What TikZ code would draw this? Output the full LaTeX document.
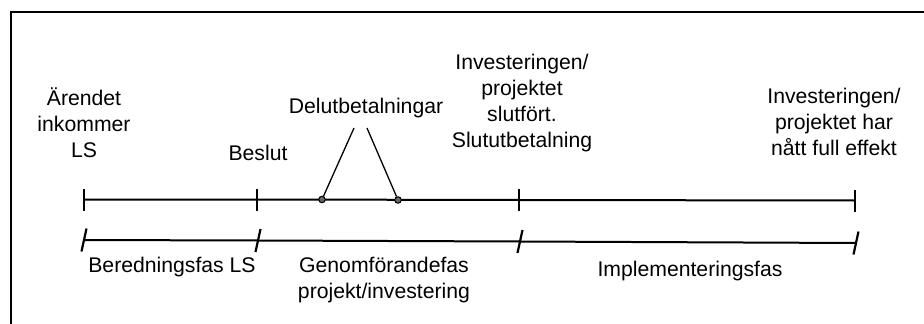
\documentclass[tikz,border=0pt]{standalone}
\usepackage{fontspec}
\setmainfont{Liberation Sans}
\begin{document}
\begin{tikzpicture}[x=1pt,y=-1pt,
  lbl/.style={inner sep=0pt,align=center,anchor=base,font=\fontsize{21.2}{25.7}\selectfont},
  axis/.style={line width=2pt,black},
  tick/.style={line width=2.2pt,black},
  dot/.style={circle,draw=black,fill=black!60,line width=1pt,minimum size=6.5pt,inner sep=0pt}]
\useasboundingbox (0,0) rectangle (924,324);
% frame
\draw[line width=2pt] (11,324) -- (11,12) -- (924,12);
% top timeline
\coordinate (a1) at (84,199.5);
\coordinate (a2) at (257,199.5);
\coordinate (a3) at (519,200);
\coordinate (a4) at (855,200.5);
\draw[axis] (a1) -- (a2) -- (a3) -- (a4);
\foreach \p in {a1,a2,a3,a4}{\draw[tick] ([yshift=-11pt]\p) -- ([yshift=11pt]\p);}
% bottom phase line
\coordinate (b1) at (84,240);
\coordinate (b2) at (258,240.5);
\coordinate (b3) at (520,241.5);
\coordinate (b4) at (856,243);
\draw[axis] (b1) -- (b2) -- (b3) -- (b4);
\foreach \p in {b1,b2,b3,b4}{\draw[tick] ([xshift=-2.5pt,yshift=-11.5pt]\p) -- ([xshift=2.5pt,yshift=11.5pt]\p);}
% partial payments
\node[dot] (d1) at (322,199.5) {};
\node[dot] (d2) at (398,200) {};
\coordinate (p1) at (354,128);
\coordinate (p2) at (367,128);
\draw[line width=1.3pt] (d1) -- (p1);
\draw[line width=1.3pt] (d2) -- (p2);
% labels (anchor = baseline of last line)
\node[lbl] (l1) at (84,157) {Ärendet\\inkommer\\LS};
\node[lbl] (l2) at (258,160) {Beslut};
\node[lbl] (l3) at (366,113) {Delutbetalningar};
\node[lbl] (l4) at (522,147) {Investeringen/\\projektet\\slutfört.\\Slututbetalning};
\node[lbl] (l5) at (834,155) {Investeringen/\\projektet har\\nått full effekt};
\node[lbl] (l6) at (172,272) {Beredningsfas LS};
\node[lbl] (l7) at (384,298) {Genomförandefas\\projekt/investering};
\node[lbl] (l8) at (690,276) {Implementeringsfas};
\end{tikzpicture}
\end{document}
